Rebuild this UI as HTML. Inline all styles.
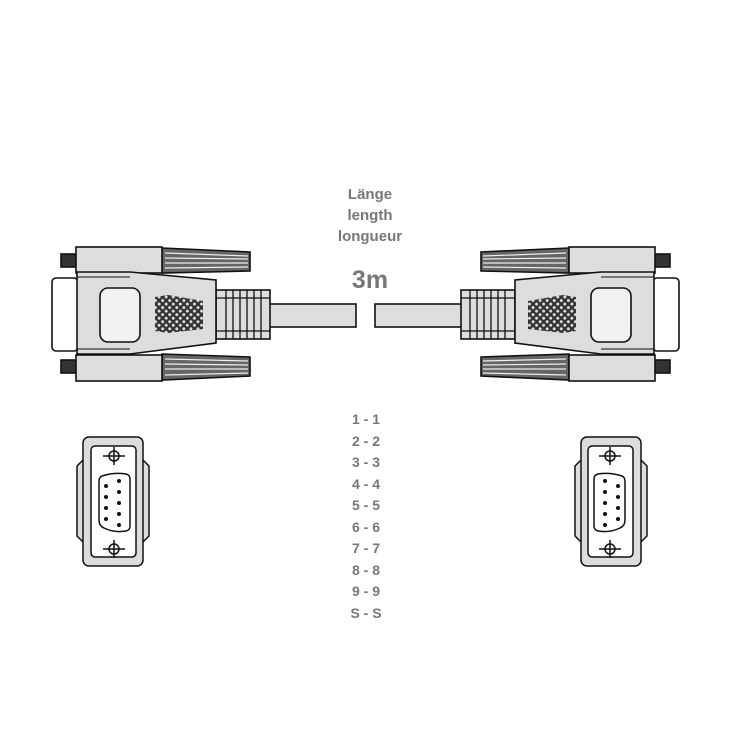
<!DOCTYPE html>
<html><head><meta charset="utf-8"><style>
html,body{margin:0;padding:0;background:#fff;width:732px;height:732px;overflow:hidden}
svg{display:block}
</style></head><body>
<svg width="732" height="732" viewBox="0 0 732 732" xmlns="http://www.w3.org/2000/svg">
<defs>
<pattern id="mesh" width="5" height="5" patternUnits="userSpaceOnUse" patternTransform="rotate(45)">
<rect width="5" height="5" fill="#333"/><circle cx="2.5" cy="2.5" r="1.5" fill="#ddd"/>
</pattern>
<g id="conn" stroke="#111" stroke-width="1.6">
 <rect x="61" y="254" width="15" height="13" fill="#333"/>
 <rect x="61" y="360" width="15" height="13" fill="#333"/>
 <rect x="52" y="278" width="26" height="73" rx="4" fill="#fff"/>
 <path d="M162 248 L250 252 L250 271 L162 273 Z" fill="#666"/>
 <path d="M162 354 L250 357 L250 376 L162 380 Z" fill="#666"/>
 <g stroke="#eee" stroke-width="1.2">
  <line x1="165" y1="253" x2="248" y2="256"/><line x1="165" y1="258" x2="248" y2="259"/><line x1="165" y1="263" x2="248" y2="263"/><line x1="165" y1="268" x2="248" y2="267"/>
  <line x1="165" y1="359" x2="248" y2="361"/><line x1="165" y1="364" x2="248" y2="365"/><line x1="165" y1="369" x2="248" y2="369"/><line x1="165" y1="375" x2="248" y2="373"/>
 </g>
 <rect x="76" y="247" width="86" height="26" fill="#ddd"/>
 <rect x="76" y="355" width="86" height="26" fill="#ddd"/>
 <rect x="268" y="304" width="88" height="23" fill="#ddd"/>
 <rect x="216" y="290" width="54" height="49" fill="#ddd"/>
 <g stroke-width="1.3" fill="none">
  <line x1="226" y1="290" x2="226" y2="339"/><line x1="233" y1="290" x2="233" y2="339"/>
  <line x1="240" y1="290" x2="240" y2="339"/><line x1="247" y1="290" x2="247" y2="339"/>
  <line x1="254" y1="290" x2="254" y2="339"/><line x1="261" y1="290" x2="261" y2="339"/>
  <line x1="216" y1="298" x2="270" y2="298"/><line x1="216" y1="331" x2="270" y2="331"/>
 </g>
 <path d="M77 272 L130 272 L216 280 L216 343 L130 354 L77 354 Z" fill="#ddd"/>
 <line x1="77" y1="277" x2="130" y2="277" stroke-width="1"/>
 <line x1="77" y1="349" x2="130" y2="349" stroke-width="1"/>
 <rect x="100" y="288" width="40" height="54" rx="8" fill="#f2f2f2"/>
 <path d="M155 297 L168 295 L203 301 L203 329 L168 333 L155 331 Z" fill="url(#mesh)" stroke="none"/>
</g>
<g id="icon" stroke="#111" stroke-width="1.5" fill="none">
 <path d="M83 460 L77 466 L77 536 L83 542" fill="#ddd"/>
 <path d="M143 460 L149 466 L149 536 L143 542" fill="#ddd"/>
 <rect x="83" y="437" width="60" height="129" rx="6" fill="#ddd"/>
 <rect x="91" y="446" width="45" height="111" rx="4" fill="#fff"/>
 <circle cx="114" cy="456" r="5"/><line x1="103" y1="456" x2="125" y2="456"/><line x1="114" y1="447" x2="114" y2="465"/>
 <circle cx="114" cy="549" r="5"/><line x1="103" y1="549" x2="125" y2="549"/><line x1="114" y1="540" x2="114" y2="558"/>
 <path d="M102 476 Q114 472 126 474 Q130 475 130 479 L130 526 Q130 530 126 531 Q114 533 104 528 Q99 526 99 520 L99 482 Q99 477 102 476 Z"/>
 <g fill="#111" stroke="none">
  <circle cx="119" cy="481" r="2"/><circle cx="119" cy="492" r="2"/><circle cx="119" cy="503" r="2"/><circle cx="119" cy="514" r="2"/><circle cx="119" cy="525" r="2"/>
  <circle cx="106" cy="486" r="2"/><circle cx="106" cy="497" r="2"/><circle cx="106" cy="508" r="2"/><circle cx="106" cy="519" r="2"/>
 </g>
</g>
</defs>
<use href="#conn"/>
<use href="#conn" transform="translate(731,0) scale(-1,1)"/>
<use href="#icon"/>
<use href="#icon" transform="translate(724,0) scale(-1,1)"/>
<g font-family="Liberation Sans, sans-serif" font-weight="bold" fill="#777" text-anchor="middle">
 <text x="370" y="199" font-size="15">Länge</text>
 <text x="370" y="220" font-size="15">length</text>
 <text x="370" y="241" font-size="15">longueur</text>
 <text x="370" y="288" font-size="25">3m</text>
 <g font-size="14">
  <text x="366" y="424">1 - 1</text>
  <text x="366" y="446">2 - 2</text>
  <text x="366" y="467">3 - 3</text>
  <text x="366" y="489">4 - 4</text>
  <text x="366" y="510">5 - 5</text>
  <text x="366" y="532">6 - 6</text>
  <text x="366" y="553">7 - 7</text>
  <text x="366" y="575">8 - 8</text>
  <text x="366" y="596">9 - 9</text>
  <text x="366" y="618">S - S</text>
 </g>
</g>
</svg>
</body></html>
